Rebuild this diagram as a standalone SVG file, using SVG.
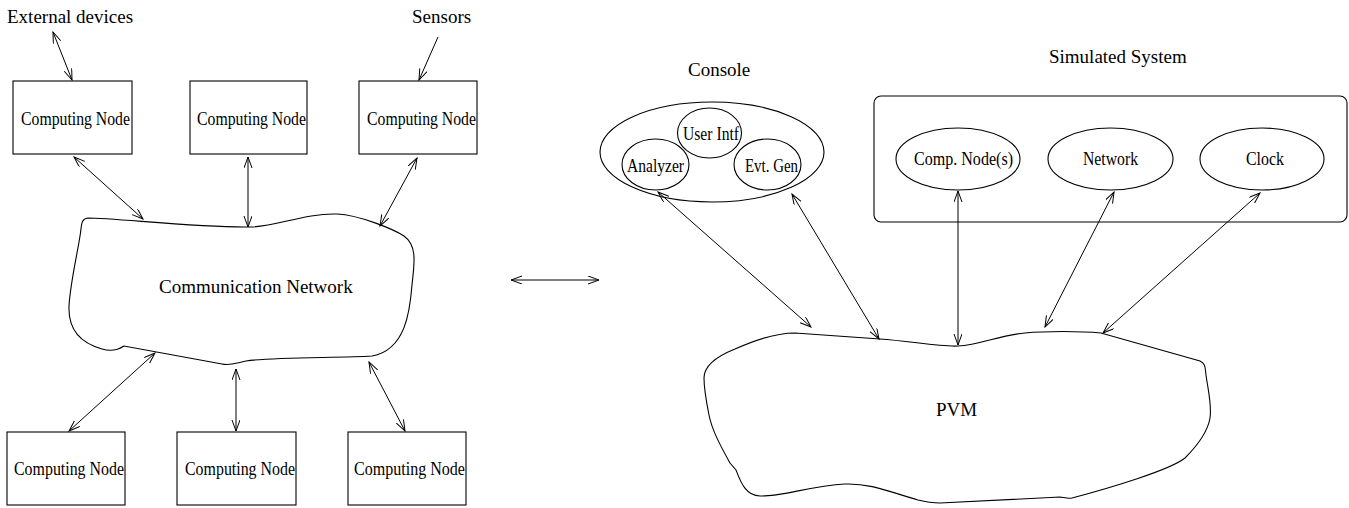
<svg xmlns="http://www.w3.org/2000/svg" width="1349" height="508" viewBox="0 0 1349 508">
<style>
.s{fill:none;stroke:#000;stroke-width:1.1}
.b{fill:#fff;stroke:#000;stroke-width:1.1}
.t{font-family:"Liberation Serif","Times New Roman",serif;font-size:19px;fill:#000}
.n{font-family:"Liberation Serif","Times New Roman",serif;font-size:18px;fill:#000}
.c{fill:none;stroke:#000;stroke-width:1}
</style>
<defs>
<marker id="ah" markerUnits="userSpaceOnUse" markerWidth="14" markerHeight="10" refX="11" refY="4" orient="auto-start-reverse">
<path d="M0,0 L11,4 L0,8" fill="none" stroke="#000" stroke-width="1"/>
</marker>
</defs>
<rect width="1349" height="508" fill="#fff"/>

<g id="label-external"><text class="t" x="7" y="23">External devices</text></g>
<g id="label-sensors"><text class="t" x="412" y="23">Sensors</text></g>

<g id="cn-top-1"><rect class="b" x="13" y="81" width="119" height="73"/><text class="n" x="21" y="125" textLength="109" lengthAdjust="spacingAndGlyphs">Computing Node</text></g>
<g id="cn-top-2"><rect class="b" x="190" y="81" width="117" height="73"/><text class="n" x="197" y="125" textLength="109" lengthAdjust="spacingAndGlyphs">Computing Node</text></g>
<g id="cn-top-3"><rect class="b" x="359" y="81" width="118" height="73"/><text class="n" x="367" y="125" textLength="109" lengthAdjust="spacingAndGlyphs">Computing Node</text></g>

<g id="comm-network">
<path class="s" d="M 88,218 C 115,218 200,228 250,227 C 275,227 305,213 337,214 C 360,215 395,230 404,236 C 418,246 414,265 412,285 C 410,310 406,350 372,356 C 340,358 270,357 246,361 C 236,363 230,366 222,364 L 124,346 C 118,350 112,352 102,349 C 80,343 68,330 69,306 C 70,285 78,250 80,236 C 82,226 80,219 88,218 Z"/>
<text class="t" x="159" y="293">Communication Network</text>
</g>

<g id="cn-bot-1"><rect class="b" x="7" y="432" width="118" height="73"/><text class="n" x="14" y="475" textLength="110" lengthAdjust="spacingAndGlyphs">Computing Node</text></g>
<g id="cn-bot-2"><rect class="b" x="177" y="432" width="119" height="73"/><text class="n" x="185" y="475" textLength="110" lengthAdjust="spacingAndGlyphs">Computing Node</text></g>
<g id="cn-bot-3"><rect class="b" x="348" y="432" width="118" height="73"/><text class="n" x="354" y="475" textLength="111" lengthAdjust="spacingAndGlyphs">Computing Node</text></g>

<g id="console">
<text class="t" x="688" y="76">Console</text>
<ellipse class="s" cx="712" cy="152" rx="112" ry="50"/>
<ellipse class="s" cx="709.5" cy="133" rx="32" ry="25"/>
<text class="n" x="683" y="140" textLength="56" lengthAdjust="spacingAndGlyphs">User Intf</text>
<ellipse class="s" cx="655.5" cy="164.5" rx="33.5" ry="25.5"/>
<text class="n" x="627" y="172" textLength="57" lengthAdjust="spacingAndGlyphs">Analyzer</text>
<ellipse class="s" cx="767.5" cy="164.5" rx="33.5" ry="25.5"/>
<text class="n" x="745" y="172" textLength="53" lengthAdjust="spacingAndGlyphs">Evt. Gen</text>
</g>

<g id="simulated-system">
<text class="t" x="1049" y="63">Simulated System</text>
<rect class="s" x="874" y="96" width="473" height="126" rx="7" ry="7"/>
</g>
<g id="comp-nodes"><ellipse class="s" cx="958" cy="159" rx="62" ry="31"/><text class="n" x="914" y="165" textLength="99" lengthAdjust="spacingAndGlyphs">Comp. Node(s)</text></g>
<g id="network"><ellipse class="s" cx="1110.5" cy="159" rx="62.5" ry="31"/><text class="n" x="1083" y="165" textLength="55" lengthAdjust="spacingAndGlyphs">Network</text></g>
<g id="clock"><ellipse class="s" cx="1262" cy="159" rx="62" ry="31"/><text class="n" x="1246" y="165" textLength="38" lengthAdjust="spacingAndGlyphs">Clock</text></g>

<g id="pvm">
<path class="s" d="M 704,378 C 704,365 720,355 735,349 C 755,340 775,333 795,333 L 880,339 C 910,341 940,347 958,346 C 980,345 1000,335 1025,333 C 1045,331 1080,331 1101,333 L 1200,361 C 1206,364 1205,368 1206,375 C 1208,390 1212,405 1210,418 C 1208,430 1198,445 1185,458 C 1170,470 1110,488 1072,498 C 1067,499 1063,497 1060,497 L 940,503 C 930,503 922,501 918,500 C 890,492 870,483 845,484 C 810,486 780,497 760,496 C 745,496 740,480 736,470 L 730,463 C 720,445 712,430 709,415 C 706,400 704,390 704,378 Z"/>
<text class="t" x="936" y="416">PVM</text>
</g>

<g id="connectors">
<line class="c" x1="53" y1="32" x2="72" y2="80" marker-start="url(#ah)" marker-end="url(#ah)"/>
<line class="c" x1="438" y1="37" x2="419" y2="80" marker-end="url(#ah)"/>
<line class="c" x1="74" y1="157" x2="143" y2="219" marker-start="url(#ah)" marker-end="url(#ah)"/>
<line class="c" x1="248" y1="157" x2="248" y2="227" marker-start="url(#ah)" marker-end="url(#ah)"/>
<line class="c" x1="417" y1="158" x2="380" y2="226" marker-start="url(#ah)" marker-end="url(#ah)"/>
<line class="c" x1="155" y1="353" x2="69" y2="431" marker-start="url(#ah)" marker-end="url(#ah)"/>
<line class="c" x1="236" y1="369" x2="236" y2="431" marker-start="url(#ah)" marker-end="url(#ah)"/>
<line class="c" x1="369" y1="362" x2="405" y2="431" marker-start="url(#ah)" marker-end="url(#ah)"/>
<line class="c" x1="511" y1="280" x2="599" y2="280" marker-start="url(#ah)" marker-end="url(#ah)"/>
<line class="c" x1="658" y1="192" x2="811" y2="327" marker-start="url(#ah)" marker-end="url(#ah)"/>
<line class="c" x1="792" y1="194" x2="879" y2="339" marker-start="url(#ah)" marker-end="url(#ah)"/>
<line class="c" x1="958" y1="191" x2="958" y2="345" marker-start="url(#ah)" marker-end="url(#ah)"/>
<line class="c" x1="1114" y1="192" x2="1045" y2="327" marker-start="url(#ah)" marker-end="url(#ah)"/>
<line class="c" x1="1260" y1="193" x2="1103" y2="333" marker-start="url(#ah)" marker-end="url(#ah)"/>
</g>
</svg>
